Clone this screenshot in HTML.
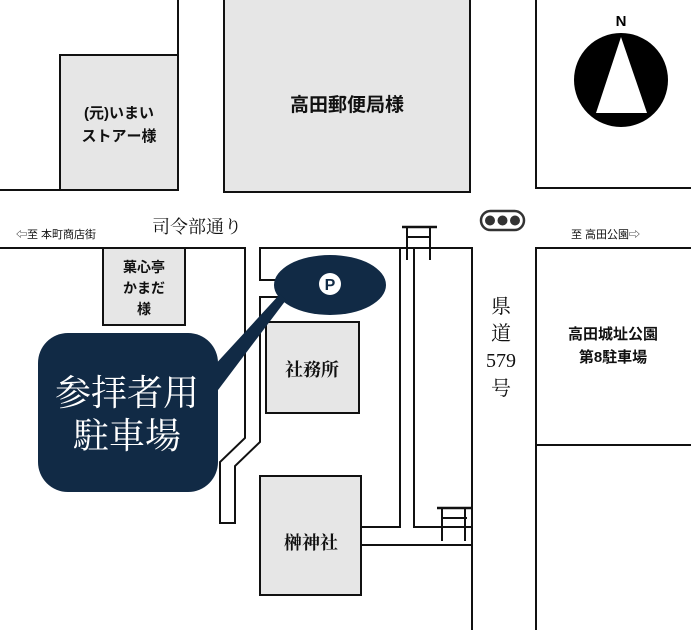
<!DOCTYPE html>
<html><head><meta charset="utf-8"><style>
html,body{margin:0;padding:0;background:#fff;}
svg{display:block;}
</style></head><body>
<svg width="691" height="630" viewBox="0 0 691 630" xmlns="http://www.w3.org/2000/svg">
<g fill="none" stroke="#111" stroke-width="2">
  <polyline points="0,190 178,190 178,0"/>
  <rect x="60" y="55" width="118" height="135" fill="#e6e6e6"/>
  <rect x="224" y="-2" width="246" height="194" fill="#e6e6e6"/>
  <polyline points="536,0 536,188 691,188"/>
  <polyline points="0,248 245,248 245,438 220,462 220,523 235,523 235,466 260,442 260,297 278,297"/>
  <polyline points="278,280 260,280 260,248 472,248 472,630"/>
  <polyline points="400,248 400,527 361,527"/>
  <polyline points="414,248 414,527 472,527"/>
  <line x1="361" y1="545" x2="472" y2="545"/>
  <polyline points="691,248 536,248 536,630"/>
  <line x1="536" y1="445" x2="691" y2="445"/>
  <rect x="103" y="248" width="82" height="77" fill="#e6e6e6"/>
  <rect x="266" y="322" width="93" height="91" fill="#e6e6e6"/>
  <rect x="260" y="476" width="101" height="119" fill="#e6e6e6"/>
  <line x1="402" y1="227" x2="437" y2="227" stroke-width="2.5"/>
  <line x1="407" y1="237" x2="431" y2="237"/>
  <line x1="407" y1="227" x2="407" y2="260"/>
  <line x1="430" y1="227" x2="430" y2="260"/>
  <line x1="437" y1="508" x2="472" y2="508" stroke-width="2.5"/>
  <line x1="442" y1="518" x2="467" y2="518"/>
  <line x1="442" y1="508" x2="442" y2="541"/>
  <line x1="465" y1="508" x2="465" y2="541"/>
  <rect x="481" y="211" width="43" height="19" rx="9.5" fill="#fff" stroke="#333" stroke-width="2.5"/>
</g>
<g fill="#333"><circle cx="490" cy="220.5" r="5"/><circle cx="502.5" cy="220.5" r="5"/><circle cx="515" cy="220.5" r="5"/></g>
<circle cx="621" cy="80" r="47" fill="#000"/>
<polygon points="621,37 596,113 647,113" fill="#fff"/>
<text x="621" y="26" font-family="Liberation Sans,sans-serif" font-weight="bold" font-size="15" text-anchor="middle">N</text>
<ellipse cx="330" cy="285" rx="56" ry="30" fill="#112a45"/>
<circle cx="330" cy="284" r="11" fill="#fff"/>
<text x="330" y="290" font-family="Liberation Sans,sans-serif" font-weight="bold" font-size="16" text-anchor="middle" fill="#112a45">P</text>
<polygon points="212,368 280,294 286,300 212,398" fill="#112a45"/>
<rect x="38" y="333" width="180" height="159" rx="30" fill="#112a45"/>
<g font-family="Liberation Serif,'Noto Serif CJK SC',serif" fill="#fff" font-size="36" text-anchor="middle">
<text x="127" y="405">参拝者用</text><text x="127" y="448">駐車場</text></g>
<g font-family="Liberation Sans,'Noto Sans CJK JP',sans-serif" font-weight="bold" fill="#111" text-anchor="middle">
<text x="119" y="118" font-size="15">(元)いまい</text>
<text x="119" y="141" font-size="15">ストアー様</text>
<text x="347" y="111" font-size="19">高田郵便局様</text>
<text x="144" y="272" font-size="14">菓心亭</text>
<text x="144" y="293" font-size="14">かまだ</text>
<text x="144" y="314" font-size="14">様</text>
<text x="613" y="339" font-size="15">高田城址公園</text>
<text x="613" y="362" font-size="15">第8駐車場</text>
</g>
<g font-family="Liberation Serif,'Noto Serif CJK SC',serif" font-weight="bold" fill="#111" text-anchor="middle" font-size="18">
<text x="312" y="376">社務所</text>
<text x="311" y="549">榊神社</text>
</g>
<g font-family="Liberation Serif,'Noto Serif CJK SC',serif" fill="#111" text-anchor="middle" font-size="20">
<text x="501" y="313">県</text><text x="501" y="340">道</text><text x="501" y="367">579</text><text x="501" y="395">号</text>
<text x="197" y="233" font-size="18">司令部通り</text>
</g>
<g font-family="Liberation Sans,'Noto Sans CJK JP',sans-serif" fill="#111" font-size="11">
<text x="16" y="238">⇦至 本町商店街</text>
<text x="571" y="238">至 高田公園⇨</text>
</g>
</svg>
</body></html>
